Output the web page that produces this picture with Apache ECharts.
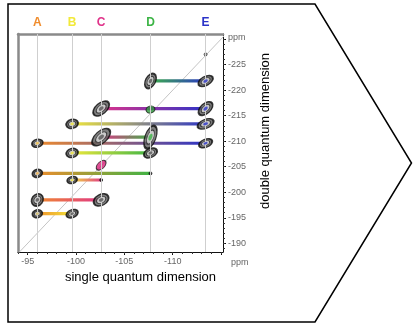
<!DOCTYPE html>
<html>
<head>
<meta charset="utf-8">
<script src="https://cdn.jsdelivr.net/npm/echarts@6/dist/echarts.min.js"></script>
<style>
  html, body { margin: 0; padding: 0; background: #fff; }
  #chart { width: 413px; height: 323px; }
</style>
</head>
<body>
<div id="chart"></div>
<script>
// Spins and their single-quantum chemical shifts (ppm)
const spinNames = ['A', 'B', 'C', 'D', 'E'];
const spinShifts = [-96.0, -99.6, -102.6, -107.7, -113.4];
const spinColors = ['#f08c2c', '#f2e93a', '#e0338a', '#3cb445', '#2b33c8'];

// Double-quantum correlations: the two coupled spins and the DQ shift (ppm)
const pairFirst  = ['D', 'C', 'B', 'C', 'A', 'B', 'A', 'B', 'A', 'A'];
const pairSecond = ['E', 'E', 'E', 'D', 'E', 'D', 'D', 'C', 'C', 'B'];
const pairDQ     = [-221.8, -216.4, -213.4, -210.8, -209.6, -207.7, -203.7, -202.4, -198.5, -195.8];

// Auto-correlation peaks sitting on the diagonal
const diagSpins = ['D', 'C', 'E'];
const diagDQ    = [-216.2, -205.3, -227.0];

// Axis ticks (ppm)
const sqTicks = [-95, -100, -105, -110];
const dqTicks = [-225, -220, -215, -210, -205, -200, -195, -190];

// Diagonal (DQ = 2 x SQ) end points
const diagSQ = [-94.0, -115.5];
const diagDQline = [-188.0, -231.0];

// ---- drawing styles ----
const SQ_MIN = -115.2, SQ_MAX = -94.0;
const DQ_MIN = -231.0, DQ_MAX = -188.3;

// contour look of each correlation peak: [width, height, rotation, core colour]
const pairLook = [
  [[16, 10, 62, null],     [16, 9, 30, '#2b33c8']],
  [[19, 11, 40, null],     [17, 10, 42, '#2b33c8']],
  [[12, 9, 15, '#f2e93a'], [17, 9, 22, '#2b33c8']],
  [[22, 12, 42, null],     [24, 11, 70, '#3cb445']],
  [[11, 8, 15, '#f5c040'], [14, 8, 22, '#2b33c8']],
  [[12, 9, 15, '#f2e93a'], [14, 9, 25, null]],
  [[10, 8, 15, '#f5b040'], [3, 3, 0, null]],
  [[10, 7, 15, '#f2e93a'], [3, 3, 0, null]],
  [[13, 11, 55, null],     [16, 11, 28, null]],
  [[10, 8, 15, '#d9c060'], [12, 8, 22, null]]
];
const diagLook = [
  [9, 7, 15, '#2e9a3a'],
  [12, 7, 45, '#d8237a'],
  [3, 3, 0, '#999']
];

const ELLIPSE = 'path://M0,10A10,10,0,1,1,20,10A10,10,0,1,1,0,10Z';

const shiftOf = n => spinShifts[spinNames.indexOf(n)];
const colorOf = n => spinColors[spinNames.indexOf(n)];

// Minor tick positions, one per ppm
const sqMinor = [];
for (let v = -94; v >= -115; v--) sqMinor.push(v);
const dqMinor = [];
for (let v = -189; v >= -230; v--) dqMinor.push(v);

const series = [];

// Light guide lines through each spin's shift
series.push({
  type: 'line', data: [], silent: true, z: 1,
  markLine: {
    silent: true, symbol: 'none', animation: false,
    label: { show: false },
    lineStyle: { color: '#cfcfcf', width: 1, type: 'solid' },
    data: spinShifts.map(v => ({ xAxis: v }))
  }
});

// Diagonal
series.push({
  type: 'line', silent: true, z: 1, symbol: 'none',
  data: diagSQ.map((x, i) => [x, diagDQline[i]]),
  lineStyle: { color: '#c4c4c4', width: 1 }
});

// Correlation bars, coloured from one spin to the other
pairFirst.forEach((a, i) => {
  const b = pairSecond[i];
  series.push({
    type: 'line', silent: true, z: 2, symbol: 'none',
    data: [[shiftOf(a), pairDQ[i]], [shiftOf(b), pairDQ[i]]],
    lineStyle: {
      width: 3.2,
      color: new echarts.graphic.LinearGradient(0, 0, 1, 0, [
        { offset: 0, color: colorOf(a) },
        { offset: 1, color: colorOf(b) }
      ])
    }
  });
});

// Peak contours: three nested ellipses per peak
const outer = [], middle = [], core = [];
function addPeak(x, y, look, filled) {
  const [w, h, r, c] = look;
  if (w <= 4) {
    outer.push({ value: [x, y], symbolSize: [w, h], symbolRotate: r,
      itemStyle: { color: c || '#111', borderColor: '#111', borderWidth: 0.8 } });
    return;
  }
  if (filled) {
    outer.push({ value: [x, y], symbolSize: [w, h], symbolRotate: r,
      itemStyle: { color: c, borderColor: '#1a1a1a', borderWidth: 1 } });
    return;
  }
  outer.push({ value: [x, y], symbolSize: [w, h], symbolRotate: r,
    itemStyle: { color: '#5e5e5e', borderColor: '#0a0a0a', borderWidth: 1.6 } });
  middle.push({ value: [x, y], symbolSize: [w * 0.62, h * 0.58], symbolRotate: r,
    itemStyle: { color: '#dcdcdc', borderColor: '#222', borderWidth: 0.9 } });
  core.push({ value: [x, y], symbolSize: [Math.max(2.5, w * 0.3), Math.max(2, h * 0.3)], symbolRotate: r,
    itemStyle: { color: c || '#555' } });
}
pairFirst.forEach((a, i) => {
  addPeak(shiftOf(a), pairDQ[i], pairLook[i][0], false);
  addPeak(shiftOf(pairSecond[i]), pairDQ[i], pairLook[i][1], false);
});
diagSpins.forEach((s, i) => addPeak(shiftOf(s), diagDQ[i], diagLook[i], true));

[outer, middle, core].forEach((d, k) => {
  series.push({
    type: 'scatter', silent: true, z: 3 + k, symbol: ELLIPSE,
    data: d, animation: false
  });
});

const rich = {};
spinNames.forEach((n, i) => {
  rich['s' + i] = { color: spinColors[i], fontWeight: 'bold', fontSize: 12, fontFamily: 'Liberation Sans' };
});

const grid = { left: 18, top: 34, right: 190, bottom: 71 };
const tickFont = { fontSize: 9, color: '#666', fontFamily: 'Liberation Sans' };

const option = {
  animation: false,
  backgroundColor: '#fff',
  grid: grid,
  xAxis: [
    {
      type: 'value', min: SQ_MIN, max: SQ_MAX, inverse: true, position: 'bottom',
      axisLine: { show: true, onZero: false, lineStyle: { color: '#111', width: 1 } },
      axisTick: { show: true, length: 3, inside: false, customValues: sqTicks.concat([-115]),
        lineStyle: { color: '#111' } },
      axisLabel: Object.assign({ customValues: sqTicks, margin: 5 }, tickFont),
      splitLine: { show: false },
      name: 'single quantum dimension', nameLocation: 'middle', nameGap: 19,
      nameTextStyle: { fontSize: 13, color: '#000', fontFamily: 'Liberation Sans', padding: [0, 0, 0, 40] }
    },
    {
      type: 'value', min: SQ_MIN, max: SQ_MAX, inverse: true, position: 'bottom',
      axisLine: { show: false },
      axisTick: { show: true, length: 2, customValues: sqMinor, lineStyle: { color: '#333' } },
      axisLabel: { show: false }, splitLine: { show: false }
    },
    {
      type: 'value', min: SQ_MIN, max: SQ_MAX, inverse: true, position: 'top',
      axisLine: { show: true, onZero: false, lineStyle: { color: '#8a8a8a', width: 2.5 } },
      axisTick: { show: false },
      axisLabel: {
        customValues: spinShifts, margin: 5,
        formatter: v => { const i = spinShifts.indexOf(v); return '{s' + i + '|' + spinNames[i] + '}'; },
        rich: rich
      },
      splitLine: { show: false }
    }
  ],
  yAxis: [
    {
      type: 'value', min: DQ_MIN, max: DQ_MAX, inverse: true, position: 'right',
      axisLine: { show: true, onZero: false, lineStyle: { color: '#111', width: 1 } },
      axisTick: { show: true, length: 3, customValues: dqTicks.concat([-230]), lineStyle: { color: '#111' } },
      axisLabel: Object.assign({ customValues: dqTicks, margin: 5, align: 'left' }, tickFont),
      splitLine: { show: false },
      name: 'double quantum dimension', nameLocation: 'middle', nameGap: 36, nameRotate: 90,
      nameTextStyle: { fontSize: 13, color: '#000', fontFamily: 'Liberation Sans', padding: [0, 0, 0, 24] }
    },
    {
      type: 'value', min: DQ_MIN, max: DQ_MAX, inverse: true, position: 'right',
      axisLine: { show: false },
      axisTick: { show: true, length: 2, customValues: dqMinor, lineStyle: { color: '#333' } },
      axisLabel: { show: false }, splitLine: { show: false }
    },
    {
      type: 'value', min: DQ_MIN, max: DQ_MAX, inverse: true, position: 'left',
      axisLine: { show: true, onZero: false, lineStyle: { color: '#8a8a8a', width: 2.5 } },
      axisTick: { show: false }, axisLabel: { show: false }, splitLine: { show: false }
    }
  ],
  series: series,
  graphic: [
    {
      type: 'polygon', silent: true, z: 100,
      shape: { points: [[8, 4], [315, 4], [411.5, 163], [315, 322], [8, 322]] },
      style: { fill: 'none', stroke: '#000', lineWidth: 1.5 }
    },
    {
      type: 'text', left: 228, top: 33, silent: true,
      style: { text: 'ppm', fontSize: 9, fill: '#666', fontFamily: 'Liberation Sans' }
    },
    {
      type: 'text', left: 231, top: 258, silent: true,
      style: { text: 'ppm', fontSize: 9, fill: '#666', fontFamily: 'Liberation Sans' }
    }
  ]
};

const chart = echarts.init(document.getElementById('chart'), null, { renderer: 'canvas' });
chart.setOption(option);
</script>
</body>
</html>
